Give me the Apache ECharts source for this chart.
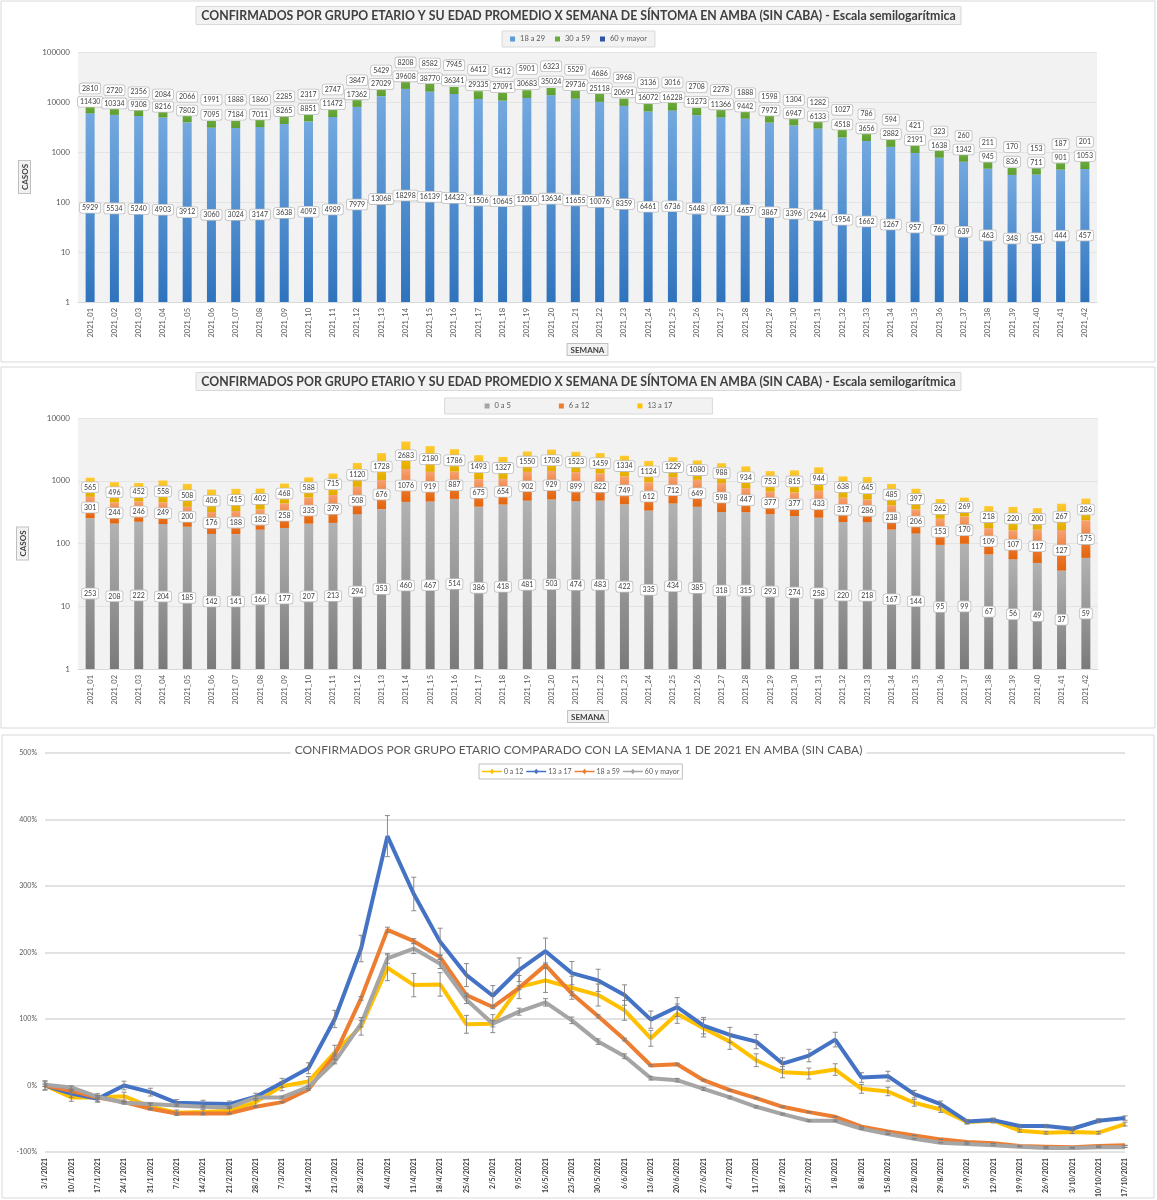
<!DOCTYPE html>
<html><head><meta charset="utf-8">
<script src="https://cdn.jsdelivr.net/npm/echarts@6.0.0/dist/echarts.min.js"></script>
<style>html,body{margin:0;padding:0;background:#fff}#c{width:1157px;height:1200px}</style>
</head><body><div id="c"></div>
<script>
// ---------- DATA ----------
const weeks = ['2021_01','2021_02','2021_03','2021_04','2021_05','2021_06','2021_07','2021_08','2021_09','2021_10','2021_11','2021_12','2021_13','2021_14','2021_15','2021_16','2021_17','2021_18','2021_19','2021_20','2021_21','2021_22','2021_23','2021_24','2021_25','2021_26','2021_27','2021_28','2021_29','2021_30','2021_31','2021_32','2021_33','2021_34','2021_35','2021_36','2021_37','2021_38','2021_39','2021_40','2021_41','2021_42'];
const adult18a29 = [5929,5534,5240,4903,3912,3060,3024,3147,3638,4092,4989,7979,13068,18298,16139,14432,11506,10645,12050,13634,11655,10076,8359,6461,6736,5448,4931,4657,3867,3396,2944,1954,1662,1267,957,769,639,463,348,354,444,457];
const adult30a59 = [11430,10334,9308,8216,7802,7095,7184,7011,8265,8851,11472,17362,27029,39608,38770,36341,29335,27091,30683,35024,29736,25118,20691,16072,16228,13273,11366,9442,7972,6947,6133,4518,3656,2882,2191,1638,1342,945,836,711,901,1053];
const adult60mas = [2810,2720,2356,2084,2066,1991,1888,1860,2285,2317,2747,3847,5429,8208,8582,7945,6412,5412,5901,6323,5529,4686,3968,3136,3016,2708,2278,1888,1598,1304,1282,1027,786,594,421,323,260,211,170,153,187,201];
const kids0a5 = [253,208,222,204,185,142,141,166,177,207,213,294,353,460,467,514,386,418,481,503,474,483,422,335,434,385,318,315,293,274,258,220,218,167,144,95,99,67,56,49,37,59];
const kids6a12 = [301,244,246,249,200,176,188,182,258,335,379,508,676,1076,919,887,675,654,902,929,899,822,749,612,712,649,598,447,377,377,433,317,286,238,206,153,170,109,107,117,127,175];
const kids13a17 = [565,496,452,558,508,406,415,402,468,588,715,1120,1728,2683,2180,1786,1493,1327,1550,1708,1523,1459,1334,1124,1229,1080,988,934,753,815,944,638,645,485,397,262,269,218,220,200,267,286];
const dates = ['3/1/2021','10/1/2021','17/1/2021','24/1/2021','31/1/2021','7/2/2021','14/2/2021','21/2/2021','28/2/2021','7/3/2021','14/3/2021','21/3/2021','28/3/2021','4/4/2021','11/4/2021','18/4/2021','25/4/2021','2/5/2021','9/5/2021','16/5/2021','23/5/2021','30/5/2021','6/6/2021','13/6/2021','20/6/2021','27/6/2021','4/7/2021','11/7/2021','18/7/2021','25/7/2021','1/8/2021','8/8/2021','15/8/2021','22/8/2021','29/8/2021','5/9/2021','12/9/2021','19/9/2021','26/9/2021','3/10/2021','10/10/2021','17/10/2021'];
const pct0a12 = [0,-18,-18,-16,-32,-41,-40,-38,-25,-1,6,50,89,177,151,152,92,93,148,158,147,136,113,71,108,86,66,38,20,18,24,-5,-9,-26,-36,-55,-53,-68,-71,-70,-71,-58];
const pct13a17 = [0,-12,-20,0,-10,-26,-27,-28,-17,4,26,100,206,375,288,216,166,135,174,202,169,158,136,99,118,90,76,66,33,45,69,12,14,-13,-28,-54,-52,-61,-61,-65,-53,-49];
const pct18a59 = [0,-8,-18,-25,-35,-42,-42,-42,-32,-25,-6,46,131,234,217,193,136,118,147,181,138,104,69,30,32,8,-7,-19,-32,-40,-47,-62,-69,-75,-81,-85,-87,-91,-92,-93,-91,-90];
const pct60mas = [1,-3,-17,-26,-28,-30,-32,-33,-18,-18,-2,36,93,191,206,183,129,93,111,125,98,66,44,11,8,-5,-18,-32,-43,-53,-53,-65,-73,-80,-86,-88,-90,-92,-94,-94,-93,-93];
// relative size of the error bars (fraction of 100% + value)
const errorRelative = {'0 a 12':0.07,'13 a 17':0.065,'18 a 59':0.012,'60 y mayor':0.025};
const pctMin = -100, pctMax = 500, pctStep = 100;

// ---------- STYLE ----------
const FONT = 'Lato';
const T1 = 'CONFIRMADOS POR GRUPO ETARIO Y SU EDAD PROMEDIO X SEMANA DE SÍNTOMA EN AMBA (SIN CABA) - Escala semilogarítmica';
const T3 = 'CONFIRMADOS POR GRUPO ETARIO COMPARADO CON LA SEMANA 1 DE 2021 EN AMBA (SIN CABA)';
const boxName = {fontFamily:FONT,fontWeight:'bold',fontSize:8,color:'#404040',backgroundColor:'#f2f2f2',borderColor:'#bfbfbf',borderWidth:1,padding:[2,3,1,3]};
const dataLabel = {show:true,position:'inside',fontFamily:FONT,fontSize:7,color:'#404040',backgroundColor:'#ffffff',borderColor:'#bfbfbf',borderWidth:0.8,borderRadius:2,padding:[2,2,1,2]};
function grad(stops){return new echarts.graphic.LinearGradient(0,1,0,0,stops.map(s=>({offset:s[0],color:s[1]})));}
const LINE_ICON = 'path://M0,3.2H8.3L10,1.2L11.7,3.2H20V4.8H11.7L10,6.8L8.3,4.8H0Z';

const chart = echarts.init(document.getElementById('c'),null,{renderer:'canvas'});

function barSeries(name, data, stack, axis, color){
  return {type:'bar',name,data,stack,xAxisIndex:axis,yAxisIndex:axis,barWidth:9,itemStyle:{color},label:dataLabel,z:2};
}
function logAxis(idx,max,nameGap){
  return {type:'log',logBase:10,gridIndex:idx,min:1,max:max,
    axisLabel:{fontFamily:FONT,fontSize:8,color:'#595959',formatter:v=>String(Math.round(v))},
    axisLine:{show:false},axisTick:{show:false},
    splitLine:{show:true,lineStyle:{color:'#e4e4e4',width:1}},
    name:'CASOS',nameLocation:'middle',nameGap:nameGap,nameRotate:90,nameTextStyle:boxName};
}
function weekAxis(idx){
  return {type:'category',gridIndex:idx,data:weeks,
    axisLabel:{interval:0,rotate:90,fontFamily:FONT,fontSize:7.5,color:'#595959',margin:6},
    axisTick:{show:false},axisLine:{show:true,lineStyle:{color:'#d9d9d9'}},
    name:'SEMANA',nameLocation:'middle',nameGap:42,nameTextStyle:boxName};
}

const lineNames = ['0 a 12','13 a 17','18 a 59','60 y mayor'];
const lineData = [pct0a12,pct13a17,pct18a59,pct60mas];
const lineColors = ['#ffc000','#4472c4','#ed7d31','#a5a5a5'];

const lineSeries = lineNames.map((n,i)=>({type:'line',name:n,data:lineData[i],xAxisIndex:2,yAxisIndex:2,
  symbol:'diamond',symbolSize:5,showSymbol:false,lineStyle:{width:4,color:lineColors[i]},itemStyle:{color:lineColors[i]},z:3+i}));
const errSeries = lineNames.map((n,i)=>({type:'custom',name:n+' err',xAxisIndex:2,yAxisIndex:2,z:10,silent:true,
  data:lineData[i].map((v,k)=>[k,v,errorRelative[n]*(100+v)]),
  encode:{x:0,y:1},
  renderItem:(params,api)=>{
    const k=api.value(0),v=api.value(1),e=api.value(2);
    const t=api.coord([k,v+e]),b=api.coord([k,v-e]);
    const st={stroke:'#7f7f7f',lineWidth:0.9};
    return {type:'group',children:[
      {type:'line',shape:{x1:t[0],y1:t[1],x2:b[0],y2:b[1]},style:st},
      {type:'line',shape:{x1:t[0]-2.5,y1:t[1],x2:t[0]+2.5,y2:t[1]},style:st},
      {type:'line',shape:{x1:b[0]-2.5,y1:b[1],x2:b[0]+2.5,y2:b[1]},style:st}]};
  }}));

const titleBox = {backgroundColor:'#f2f2f2',borderColor:'#d9d9d9',borderWidth:1,padding:[4,6,3,6],textStyle:{fontFamily:FONT,fontWeight:'bold',fontSize:12.3,color:'#404040'}};

const option = {
  animation:false,
  backgroundColor:'#ffffff',
  graphic:[
    {type:'rect',shape:{x:1,y:1,width:1154,height:361},style:{fill:'none',stroke:'#d9d9d9',lineWidth:1},z:-10},
    {type:'rect',shape:{x:1,y:367,width:1154,height:361},style:{fill:'none',stroke:'#d9d9d9',lineWidth:1},z:-10},
    {type:'rect',shape:{x:2,y:735,width:1152,height:463},style:{fill:'none',stroke:'#d9d9d9',lineWidth:1},z:-10}
  ],
  title:[
    Object.assign({text:T1,left:'center',top:6},titleBox),
    Object.assign({text:T1,left:'center',top:372},titleBox),
    {text:T3,left:'center',top:743,backgroundColor:'#ffffff',padding:[1,4],textStyle:{fontFamily:FONT,fontWeight:'normal',fontSize:12,color:'#595959'}}
  ],
  legend:[
    {data:[{name:'18 a 29',itemStyle:{color:'#5b9bd5'}},{name:'30 a 59',itemStyle:{color:'#6aaa3a'}},{name:'60 y mayor',itemStyle:{color:'#2f55a4'}}],
     left:'center',top:31,itemWidth:5,itemHeight:5,itemGap:10,icon:'rect',backgroundColor:'#f2f2f2',borderColor:'#d9d9d9',borderWidth:1,padding:[4,8],textStyle:{fontFamily:FONT,fontSize:7.5,color:'#595959'}},
    {data:[{name:'0 a 5',itemStyle:{color:'#a5a5a5'}},{name:'6 a 12',itemStyle:{color:'#ed7d31'}},{name:'13 a 17',itemStyle:{color:'#ffc000'}}],
     left:'center',top:398,itemWidth:5,itemHeight:5,itemGap:48,icon:'rect',backgroundColor:'#f2f2f2',borderColor:'#d9d9d9',borderWidth:1,padding:[4,40],textStyle:{fontFamily:FONT,fontSize:7.5,color:'#595959'}},
    {data:lineNames.map((n,i)=>({name:n,icon:LINE_ICON,itemStyle:{color:lineColors[i],borderWidth:0}})),
     left:479,top:764,itemWidth:20,itemHeight:7,itemGap:3,backgroundColor:'#ffffff',borderColor:'#bfbfbf',borderWidth:1,padding:[4,3],textStyle:{fontFamily:FONT,fontSize:7,color:'#595959',padding:[0,0,0,-3]}}
  ],
  grid:[
    {left:78,right:60,top:52,height:250,show:true,backgroundColor:'#f2f2f2',borderWidth:0},
    {left:78,right:59,top:418,height:251,show:true,backgroundColor:'#f2f2f2',borderWidth:0},
    {left:45,right:32,top:753,height:401}
  ],
  xAxis:[weekAxis(0),weekAxis(1),
    {type:'category',gridIndex:2,data:dates,boundaryGap:false,
     axisLabel:{interval:0,rotate:90,fontFamily:FONT,fontSize:7,fontWeight:'bold',color:'#404040',margin:6},
     axisTick:{show:false},axisLine:{show:true,lineStyle:{color:'#d9d9d9'}}}],
  yAxis:[logAxis(0,100000,48),logAxis(1,10000,50),
    {type:'value',gridIndex:2,min:pctMin,max:pctMax,interval:pctStep,
     axisLabel:{fontFamily:FONT,fontSize:7,color:'#595959',formatter:'{value}%'},
     axisLine:{show:false},axisTick:{show:false},splitLine:{lineStyle:{color:'#d9d9d9',width:1.5}}}],
  series:[
    barSeries('18 a 29',adult18a29,'p1',0,grad([[0,'#2f73bd'],[1,'#74a9df']])),
    barSeries('30 a 59',adult30a59,'p1',0,grad([[0,'#5e9c30'],[0.27,'#6aaa3a'],[0.275,'rgba(106,170,58,0)'],[1,'rgba(106,170,58,0)']])),
    barSeries('60 y mayor',adult60mas,'p1',0,'#2f55a4'),
    barSeries('0 a 5',kids0a5,'p2',1,grad([[0,'#7a7a7a'],[1,'#b2b2b2']])),
    barSeries('6 a 12',kids6a12,'p2',1,grad([[0,'#e4640c'],[0.45,'#ec7a30'],[1,'#f6a274']])),
    barSeries('13 a 17',kids13a17,'p2',1,grad([[0,'#e2ac00'],[0.45,'#f2bb00'],[1,'#ffc935']])),
    ...lineSeries,
    ...errSeries
  ]
};
chart.setOption(option);
</script></body></html>
